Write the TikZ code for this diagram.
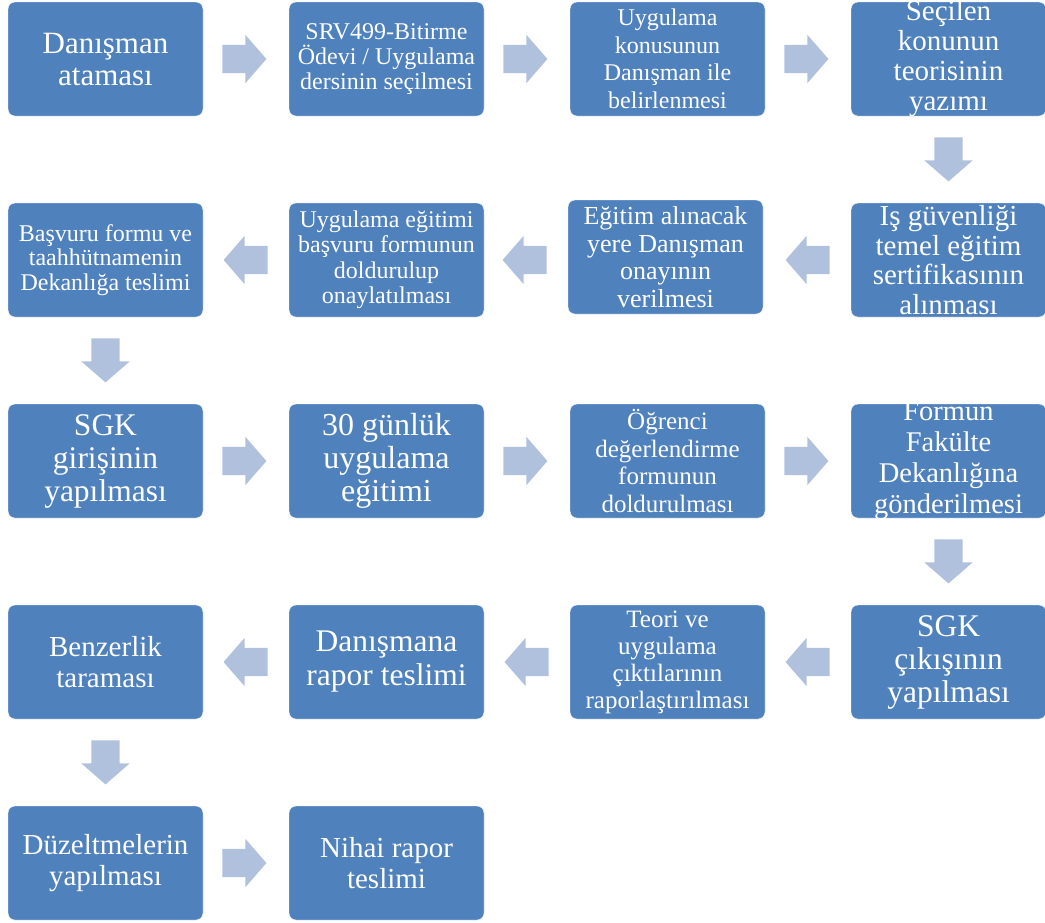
\documentclass[tikz,border=0pt]{standalone}
\usepackage{fontspec}
\setmainfont{Liberation Serif}
\newfontfamily\kutufont{Liberation Serif}
\usepackage{tikz}
\usetikzlibrary{shapes.arrows, calc}

\definecolor{kutumavi}{RGB}{79,129,189}
\definecolor{okmavi}{RGB}{176,193,222}

\newcommand{\yazi}[2]{\kutufont\fontsize{#1}{#2}\selectfont}

\tikzset{
  kutu/.style={draw=white, fill=kutumavi, rounded corners=7pt,
    minimum width=195pt, minimum height=114pt, inner xsep=0pt,
    inner ysep=-10pt, text=white, align=center},
  ok/.style={single arrow, fill=okmavi, draw=none, minimum height=44pt,
    single arrow head extend=10pt, single arrow tip angle=98, anchor=tail},
  oksag/.style={ok, inner xsep=0pt, inner ysep=14pt},
  oksol/.style={ok, inner xsep=0pt, inner ysep=14pt, shape border rotate=180},
  okalt/.style={ok, inner xsep=14pt, inner ysep=0pt, shape border rotate=270}
}

\begin{document}
\begin{tikzpicture}[x=1pt, y=-1pt]
    \useasboundingbox (0, 0) rectangle (1045, 922);

    % Birinci satir
    \node[kutu, font={\yazi{31}{32}}] (k1) at (105.5, 59) {Danışman\\ataması};

    \node[kutu, font={\yazi{24}{25}}] (k2) at (386.5, 59) {SRV499-Bitirme\\Ödevi / Uygulama\\dersinin seçilmesi};

    \node[kutu, font={\yazi{24}{27.5}}] (k3) at (667.5, 59) {Uygulama\\konusunun\\Danışman ile\\belirlenmesi};

    \node[kutu, font={\yazi{29}{30}}] (k4) at (948.5, 59) {Seçilen\\konunun\\teorisinin\\yazımı};



    % Ikinci satir
    \node[kutu, font={\yazi{29}{29.5}}] (k5) at (948.5, 260) {Iş güvenliği\\temel eğitim\\sertifikasının\\alınması};

    \node[kutu, font={\yazi{26}{27.5}}] (k6) at (665.5, 257) {Eğitim alınacak\\yere Danışman\\onayının\\verilmesi};

    \node[kutu, font={\yazi{24}{25.5}}] (k7) at (386.5, 260) {Uygulama eğitimi\\başvuru formunun\\doldurulup\\onaylatılması};

    \node[kutu, font={\yazi{24}{24.5}}] (k8) at (105.5, 260) {Başvuru formu ve\\taahhütnamenin\\Dekanlığa teslimi};



    % Ucuncu satir
    \node[kutu, font={\yazi{31.5}{33}}] (k9) at (105.5, 461) {SGK\\girişinin\\yapılması};

    \node[kutu, font={\yazi{32}{33}}] (k10) at (386.5, 461) {30 günlük\\uygulama\\eğitimi};

    \node[kutu, font={\yazi{25}{27.5}}] (k11) at (667.5, 461) {Öğrenci\\değerlendirme\\formunun\\doldurulması};

    \node[kutu, font={\yazi{28.5}{31}}] (k12) at (948.5, 461) {Formun\\Fakülte\\Dekanlığına\\gönderilmesi};



    % Dorduncu satir
    \node[kutu, font={\yazi{31.5}{33}}] (k13) at (948.5, 662) {SGK\\çıkışının\\yapılması};

    \node[kutu, font={\yazi{25}{27}}] (k14) at (667.5, 662) {Teori ve\\uygulama\\çıktılarının\\raporlaştırılması};

    \node[kutu, font={\yazi{31.5}{34}}] (k15) at (386.5, 662) {Danışmana\\rapor teslimi};

    \node[kutu, font={\yazi{29}{31}}] (k16) at (105.5, 662) {Benzerlik\\taraması};



    % Besinci satir
    \node[kutu, font={\yazi{29}{31}}] (k17) at (105.5, 863) {Düzeltmelerin\\yapılması};

    \node[kutu, font={\yazi{29}{31}}] (k18) at (386.5, 863) {Nihai rapor\\teslimi};



    % Oklar
    \node[oksag] (o1) at ($(k1.east)+(19, 0)$) {};

    \node[oksag] (o2) at ($(k2.east)+(19, 0)$) {};

    \node[oksag] (o3) at ($(k3.east)+(19, 0)$) {};

    \node[okalt] (o4) at ($(k4.south)+(0, 21)$) {};

    \node[oksol] (o5) at ($(k5.west)+(-21, 0)$) {};

    \node[oksol] (o6) at ($(k6.west |- k7)+(-21, 0)$) {};

    \node[oksol] (o7) at ($(k7.west)+(-21, 0)$) {};

    \node[okalt] (o8) at ($(k8.south)+(0, 21)$) {};

    \node[oksag] (o9) at ($(k9.east)+(19, 0)$) {};

    \node[oksag] (o10) at ($(k10.east)+(19, 0)$) {};

    \node[oksag] (o11) at ($(k11.east)+(19, 0)$) {};

    \node[okalt] (o12) at ($(k12.south)+(0, 21)$) {};

    \node[oksol] (o13) at ($(k13.west)+(-21, 0)$) {};

    \node[oksol] (o14) at ($(k14.west)+(-21, 0)$) {};

    \node[oksol] (o15) at ($(k15.west)+(-21, 0)$) {};

    \node[okalt] (o16) at ($(k16.south)+(0, 21)$) {};

    \node[oksag] (o17) at ($(k17.east)+(19, 0)$) {};
\end{tikzpicture}
\end{document}
